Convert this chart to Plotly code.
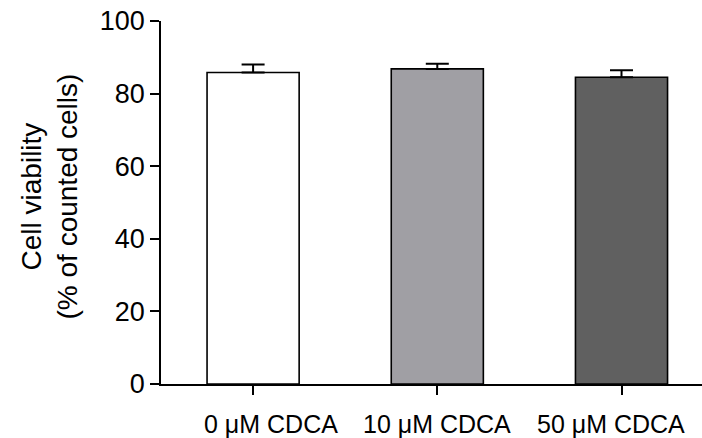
import plotly.graph_objects as go

categories = ["0 \u03bcM CDCA", "10 \u03bcM CDCA", "50 \u03bcM CDCA"]
viability = [85.8, 86.8, 84.5]
sem = [2.2, 1.4, 1.9]
bar_colors = ["#FFFFFF", "#A09FA4", "#606060"]
y_ticks = [0, 20, 40, 60, 80, 100]
label_shift = [18, 0, -11]

fig = go.Figure()
fig.add_trace(go.Bar(
    x=[0, 1, 2], y=viability,
    width=0.5,
    marker=dict(color=bar_colors, line=dict(color="black", width=1.6)),
    error_y=dict(type="data", array=sem, symmetric=False, arrayminus=[0, 0, 0],
                 color="black", thickness=2, width=11.5),
))

for i, lab in enumerate(categories):
    fig.add_annotation(x=i, y=0, xref="x", yref="paper", text=lab, showarrow=False,
                       xanchor="center", yanchor="middle", yshift=-40, xshift=label_shift[i],
                       font=dict(size=25, color="black"))

fig.add_annotation(x=0, y=0.5, xref="paper", yref="paper",
                   text="Cell viability<br>(% of counted cells)", showarrow=False,
                   textangle=-90, xanchor="center", yanchor="middle",
                   xshift=-112, yshift=6, font=dict(size=28, color="black"))

fig.update_layout(
    width=702, height=438,
    margin=dict(l=160.5, r=0, t=21, b=54),
    plot_bgcolor="white", paper_bgcolor="white",
    showlegend=False,
    font=dict(family="Liberation Sans, Arial", color="black"),
    xaxis=dict(
        range=[-0.5, 2.437], tickvals=[0, 1, 2], ticktext=["", "", ""],
        showline=True, linecolor="black", linewidth=1.6,
        ticks="outside", ticklen=9, tickwidth=1.6, tickcolor="black",
        showgrid=False, zeroline=False,
    ),
    yaxis=dict(
        range=[0, 100], tickvals=y_ticks,
        showline=True, linecolor="black", linewidth=1.6,
        ticks="outside", ticklen=9, tickwidth=1.6, tickcolor="black",
        tickfont=dict(size=27), showgrid=False, zeroline=False,
    ),
)

fig.write_html("out.html")
